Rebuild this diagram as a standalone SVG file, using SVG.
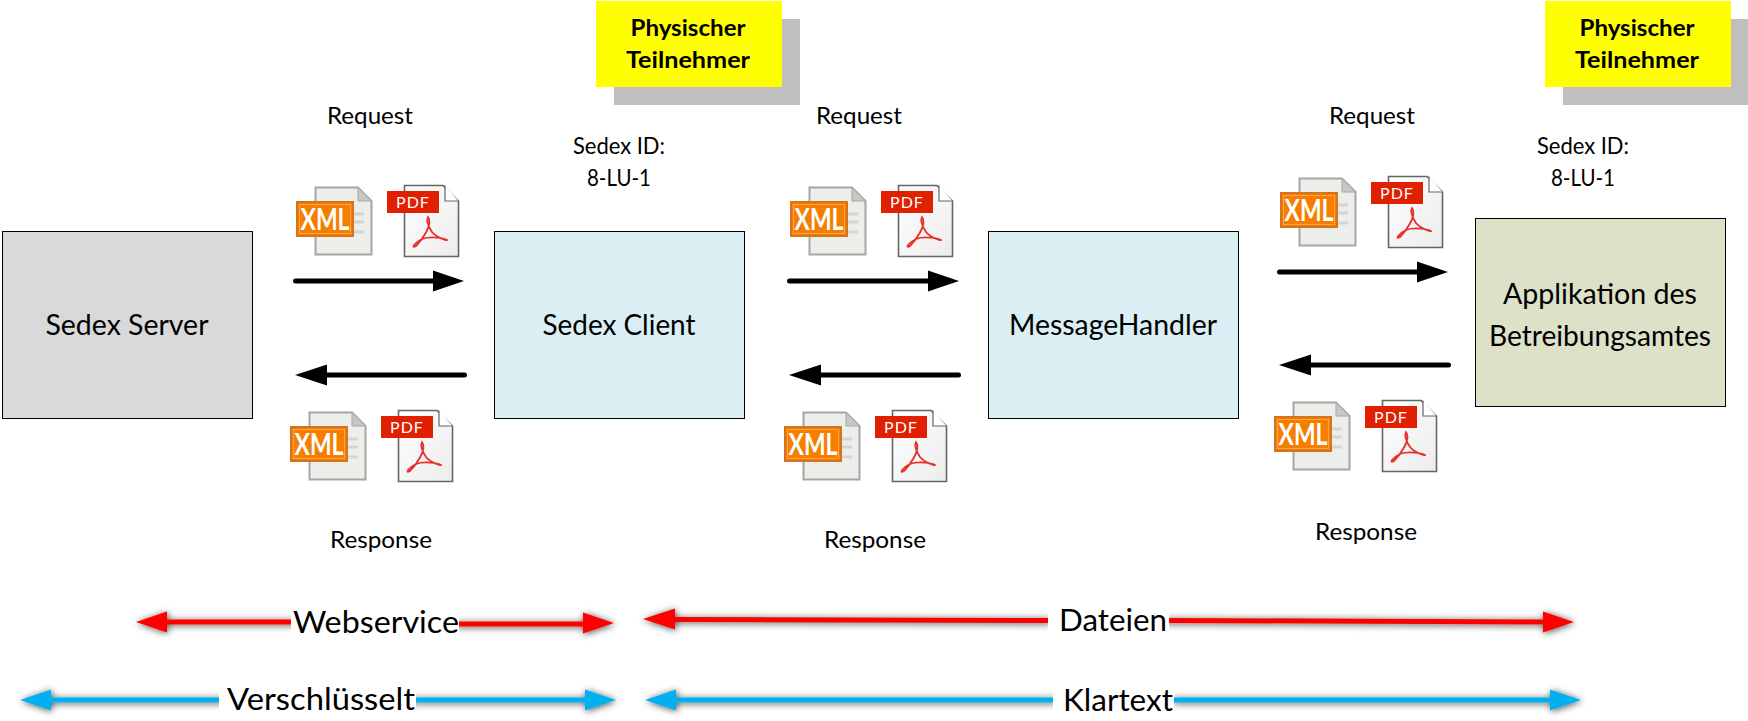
<svg xmlns="http://www.w3.org/2000/svg" width="1748" height="721" viewBox="0 0 1748 721">
<style>
text{font-family:"Lato","Open Sans","Liberation Sans",sans-serif;fill:#000;text-anchor:middle}
.box{stroke:#000;stroke-width:1}
.lbl{font-size:23px}
.big{font-size:28px}
.band{font-size:31px}
.tag{font-size:23.5px;font-weight:700}
.blk{stroke:#000;stroke-width:5;stroke-linecap:round;fill:none}
.red{stroke:#f00;stroke-width:5;fill:none}
.blu{stroke:#00b0f0;stroke-width:5;fill:none}
.rh{fill:#f00}
.bh{fill:#00b0f0}
</style>
<defs>
<filter id="sh" x="-10%" y="-300%" width="120%" height="700%"><feDropShadow dx="1" dy="1" stdDeviation="3.500" flood-color="#000" flood-opacity=".7"/></filter>
<linearGradient id="pg" x1="0" y1="0" x2="1" y2="1"><stop offset="0" stop-color="#fff"/><stop offset="1" stop-color="#ececec"/></linearGradient>
<g id="docs">
<path d="M315.500 187.500H358L371.500 201V254.500H315.500Z" fill="#eceeea" stroke="#a6a6a6" stroke-width="2"/>
<path d="M358 187.500V201H371.500Z" fill="#c6c8c6" stroke="#a6a6a6"/>
<path d="M354 214h10M354 222h10M354 232h10" stroke="#d5d5d5" stroke-width="3"/>
<rect x="297" y="202" width="56" height="34" fill="#f57d00" stroke="#d9731a" stroke-width="2"/>
<rect x="299.500" y="204.500" width="51" height="29" fill="none" stroke="#fba54a" stroke-width="1"/>
<text x="325" y="230" style="font-family:'Lato',sans-serif;font-size:31px;font-weight:700;fill:#fff" textLength="49" lengthAdjust="spacingAndGlyphs">XML</text>
<path d="M404.500 185.500H443L458.500 201V256.500H404.500Z" fill="url(#pg)" stroke="#666" stroke-width="1.600"/>
<path d="M445 185.500V201H458.500" fill="#fff" stroke="#666" stroke-width="1.200"/>
<rect x="387" y="191" width="52" height="22" fill="#e02000"/>
<text x="413" y="208" style="font-family:'Lato',sans-serif;font-size:16px;fill:#fff;letter-spacing:1px">PDF</text>
<path d="M428 217C434 224 421 241 416 246C411 249 414 243 422 239C430 236 444 238 447 240C448 241 437 238 432 232C428 226 426 221 428 217Z" fill="none" stroke="#e8302a" stroke-width="1.800"/>
</g>
</defs>
<rect width="1748" height="721" fill="#fff"/>
<g id="connectors">
<path class="blk" d="M295.500 281H436"/><path d="M433 270.500L464 281L433 291.500Z"/>
<path class="blk" d="M789.500 281H930"/><path d="M928 270.500L959 281L928 291.500Z"/>
<path class="blk" d="M1279.500 272H1420"/><path d="M1417 261.500L1448 272L1417 282.500Z"/>
<path class="blk" d="M464.500 375H325"/><path d="M327 364.500L295 375L327 385.500Z"/>
<path class="blk" d="M958.500 375H820"/><path d="M821 364.500L789 375L821 385.500Z"/>
<path class="blk" d="M1448.500 365H1310"/><path d="M1311 354.500L1279 365L1311 375.500Z"/>
<g filter="url(#sh)">
<path class="red" d="M160 622H295"/><path class="rh" d="M136 622L167 611.500V632.500Z"/>
<path class="red" d="M455 624H590"/><path class="rh" d="M583 612.500L614 623L583 633.500Z"/>
</g>
<g filter="url(#sh)">
<path class="red" d="M670 619.500L1050 620.500M1165 620.500L1545 622"/><path class="rh" d="M643 619L675 608.500V629.500Z M1543 611.500L1574 622L1543 632.500Z"/>
</g>
<g filter="url(#sh)">
<path class="blu" d="M45 700H225M410 700H590"/><path class="bh" d="M20 700L51 689.500V710.500Z M585 689.500L616 700L585 710.500Z"/>
</g>
<g filter="url(#sh)">
<path class="blu" d="M670 700H1055M1172 700H1555"/><path class="bh" d="M645 700L676 689.500V710.500Z M1550 689.500L1581 700L1550 710.500Z"/>
</g>
</g>
<g id="band-webservice"><rect x="291" y="600" width="168" height="44" fill="#fff"/><text class="band" x="376" y="633" textLength="166" lengthAdjust="spacingAndGlyphs">Webservice</text></g>
<g id="band-dateien"><rect x="1048" y="598" width="121" height="44" fill="#fff"/><text class="band" x="1113" y="631" textLength="108" lengthAdjust="spacingAndGlyphs">Dateien</text></g>
<g id="band-verschluesselt"><rect x="219" y="678" width="197" height="43" fill="#fff"/><text class="band" x="321" y="710" textLength="188" lengthAdjust="spacingAndGlyphs">Verschlüsselt</text></g>
<g id="band-klartext"><rect x="1053" y="678" width="121" height="43" fill="#fff"/><text class="band" x="1118" y="711" textLength="110" lengthAdjust="spacingAndGlyphs">Klartext</text></g>
<g id="sedex-server"><rect class="box" x="2.500" y="231.500" width="250" height="187" fill="#d9d9d9"/><text class="big" x="127" y="335" textLength="163" lengthAdjust="spacingAndGlyphs">Sedex Server</text></g>
<g id="sedex-client"><rect class="box" x="494.500" y="231.500" width="250" height="187" fill="#daeef3"/><text class="big" x="619" y="335" textLength="153" lengthAdjust="spacingAndGlyphs">Sedex Client</text></g>
<g id="message-handler"><rect class="box" x="988.500" y="231.500" width="250" height="187" fill="#daeef3"/><text class="big" x="1113" y="335" textLength="208" lengthAdjust="spacingAndGlyphs">MessageHandler</text></g>
<g id="applikation"><rect class="box" x="1475.500" y="218.500" width="250" height="188" fill="#dde1c8"/><text class="big" x="1600" y="304" textLength="194" lengthAdjust="spacingAndGlyphs">Applikation des</text><text class="big" x="1600" y="346" textLength="222" lengthAdjust="spacingAndGlyphs">Betreibungsamtes</text></g>
<g id="teilnehmer-1"><rect x="614" y="19" width="186" height="86" fill="#bfbfbf"/><rect x="596" y="1" width="186" height="86" fill="#ff0"/><text class="tag" x="688" y="36" textLength="115" lengthAdjust="spacingAndGlyphs">Physischer</text><text class="tag" x="688" y="68" textLength="124" lengthAdjust="spacingAndGlyphs">Teilnehmer</text></g>
<g id="teilnehmer-2"><rect x="1563" y="19" width="185" height="86" fill="#bfbfbf"/><rect x="1545" y="1" width="186" height="86" fill="#ff0"/><text class="tag" x="1637" y="36" textLength="115" lengthAdjust="spacingAndGlyphs">Physischer</text><text class="tag" x="1637" y="68" textLength="124" lengthAdjust="spacingAndGlyphs">Teilnehmer</text></g>
<g id="labels">
<text class="lbl" x="370" y="124" textLength="86" lengthAdjust="spacingAndGlyphs">Request</text>
<text class="lbl" x="859" y="124" textLength="86" lengthAdjust="spacingAndGlyphs">Request</text>
<text class="lbl" x="1372" y="124" textLength="86" lengthAdjust="spacingAndGlyphs">Request</text>
<text class="lbl" x="619" y="154" textLength="92" lengthAdjust="spacingAndGlyphs">Sedex ID:</text>
<text class="lbl" x="619" y="186" textLength="64" lengthAdjust="spacingAndGlyphs">8-LU-1</text>
<text class="lbl" x="1583" y="154" textLength="92" lengthAdjust="spacingAndGlyphs">Sedex ID:</text>
<text class="lbl" x="1583" y="186" textLength="64" lengthAdjust="spacingAndGlyphs">8-LU-1</text>
<text class="lbl" x="381" y="548" textLength="102" lengthAdjust="spacingAndGlyphs">Response</text>
<text class="lbl" x="875" y="548" textLength="102" lengthAdjust="spacingAndGlyphs">Response</text>
<text class="lbl" x="1366" y="540" textLength="102" lengthAdjust="spacingAndGlyphs">Response</text>
</g>
<g id="icons">
<use href="#docs"/>
<use href="#docs" x="494"/>
<use href="#docs" x="984" y="-9"/>
<use href="#docs" x="-6" y="225"/>
<use href="#docs" x="488" y="225"/>
<use href="#docs" x="978" y="215"/>
</g>
</svg>
